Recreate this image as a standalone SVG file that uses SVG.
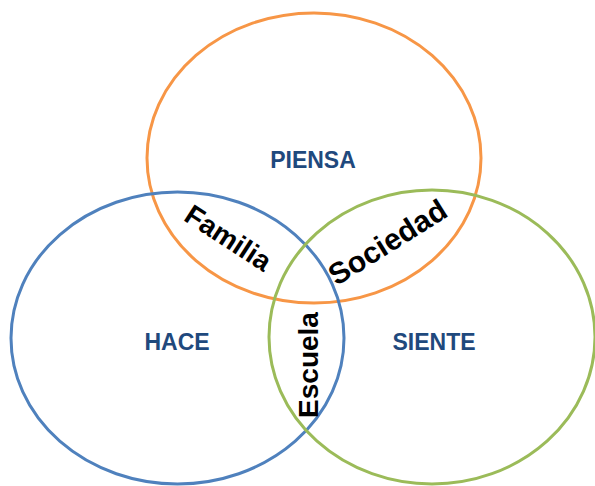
<svg xmlns="http://www.w3.org/2000/svg" width="595" height="486" viewBox="0 0 595 486">
<style>
.c{fill:none;stroke-width:3}
.lbl{font-family:"Liberation Sans",Arial,sans-serif;font-weight:bold;font-size:23px;fill:#1F497D;text-anchor:middle}
.ov{font-family:"Liberation Sans",Arial,sans-serif;font-weight:bold;font-size:27px;fill:#000;text-anchor:middle}
</style>
<rect width="595" height="486" fill="#fff"/>
<g id="piensa">
<ellipse class="c" cx="314" cy="158" rx="167" ry="145" stroke="#F79646"/>
<text class="lbl" x="313" y="168">PIENSA</text>
</g>
<g id="hace">
<ellipse class="c" cx="177.5" cy="338" rx="166.5" ry="146" stroke="#4F81BD"/>
<text class="lbl" x="177" y="350">HACE</text>
</g>
<g id="siente">
<ellipse class="c" cx="432" cy="337" rx="163" ry="147" stroke="#9BBB59"/>
<text class="lbl" x="434" y="350">SIENTE</text>
</g>
<g id="familia">
<text class="ov" transform="translate(223,246) rotate(33)" style="font-size:28px">Familia</text>
</g>
<g id="sociedad">
<text class="ov" transform="translate(393,251) rotate(-32)" style="font-size:30px">Sociedad</text>
</g>
<g id="escuela">
<text class="ov" transform="translate(318,365) rotate(-90)" style="font-size:28px">Escuela</text>
</g>
</svg>
